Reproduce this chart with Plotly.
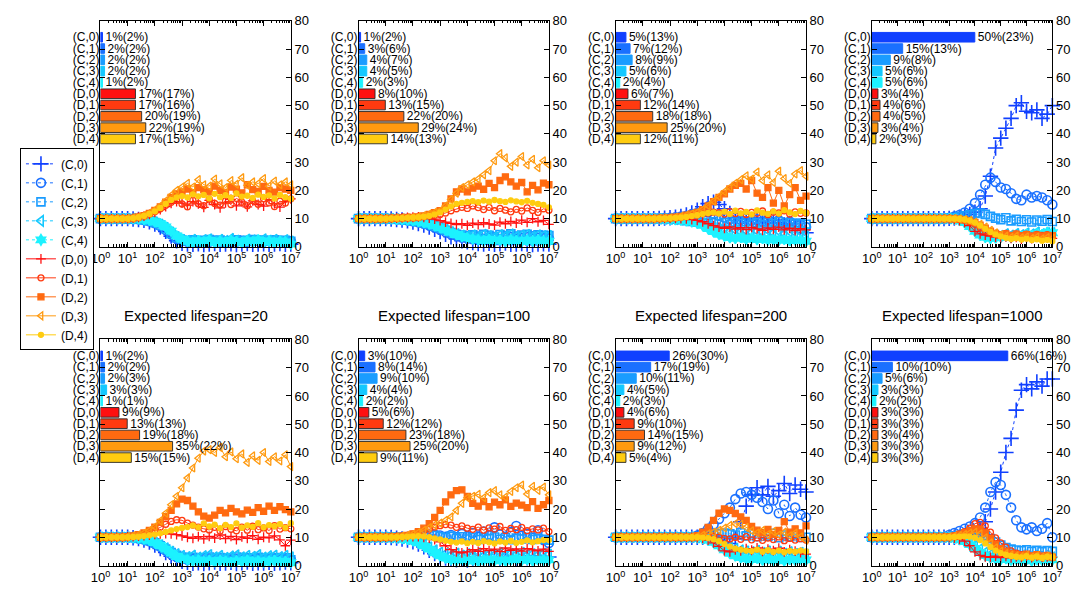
import plotly.graph_objects as go

# ---------------- data ----------------
TIME = [1, 1.585, 2.512, 3.981, 6.31, 10, 15.85, 25.12, 39.81, 63.1, 100, 158.5, 251.2, 398.1, 631,
        1000, 1585, 2512, 3981, 6310, 1e4, 1.585e4, 2.512e4, 3.981e4, 6.31e4, 1e5, 1.585e5, 2.512e5,
        3.981e5, 6.31e5, 1e6, 1.585e6, 2.512e6, 3.981e6, 6.31e6, 1e7]

NAMES = ["(C,0)", "(C,1)", "(C,2)", "(C,3)", "(C,4)", "(D,0)", "(D,1)", "(D,2)", "(D,3)", "(D,4)"]
COLORS = ["#1040ff", "#1a70ff", "#1a9cff", "#14c8ff", "#1cf2ff",
          "#ff1010", "#ff3a10", "#ff6a10", "#ff9a10", "#ffcc10"]
TITLES = ["", "", "", "", "Expected lifespan=20", "Expected lifespan=100",
          "Expected lifespan=200", "Expected lifespan=1000"]

# top row, panel 1
T1_C0 = [10,10,10,10,10,10, 9.9,9.7,9.4,8.9,8.1,7.0,5.5,3.8,2.2,1.3, 1.0,0.9,1.1,0.8,1.0,1.2,0.9,1.0,1.1,0.8, 1.0,1.2,0.9,1.0,1.1,0.9,1.0,1.2,0.9,1.0]
T1_C1 = [10,10,10,10,10,10, 9.9,9.8,9.5,9.1,8.4,7.4,6.0,4.4,2.9,2.1, 1.8,2.0,1.7,2.1,1.8,2.2,1.9,1.7,2.1,1.9, 2.2,1.8,2.0,2.3,1.8,2.1,1.9,2.2,1.8,2.0]
T1_C2 = [10,10,10,10,10,10, 9.9,9.8,9.6,9.2,8.6,7.7,6.4,4.8,3.3,2.4, 2.1,2.5,1.9,2.3,2.6,2.0,2.4,1.8,2.2,2.5, 1.9,2.3,2.6,2.0,2.4,2.1,2.5,1.9,2.3,2.0]
T1_C3 = [10,10,10,10,10,10, 10,9.9,9.7,9.4,8.8,8.0,6.8,5.2,3.6,2.6, 2.2,2.6,2.0,2.5,2.8,2.1,2.6,2.2,2.9,2.3, 2.0,2.7,2.4,2.1,2.8,2.3,2.6,2.0,2.5,2.0]
T1_C4 = [10,10,10,10,10,10, 10,9.9,9.7,9.4,8.9,8.2,7.1,5.6,3.9,2.7, 2.0,1.6,2.2,1.8,2.4,1.5,2.1,1.7,2.3,1.9, 1.6,2.2,1.8,2.5,1.7,2.1,1.5,2.0,1.8,1.0]
T1_D0 = [10,10,10,10,10,10, 10.2,10.5,10.9,11.5,12.2,13.2,14.3,15.4,16.0,15.5, 14.8,16.0,15.2,14.0,16.5,15.0,13.8,15.6,16.8,14.5, 15.9,14.2,16.3,15.0,14.4,16.7,15.3,14.1,16.0,17.0]
T1_D1 = [10,10,10,10,10,10, 10.2,10.5,11.0,11.6,12.4,13.5,14.7,15.8,16.5,15.2, 14.2,16.5,15.3,14.6,16.9,15.4,14.8,16.3,15.0,17.2, 15.8,14.6,16.4,15.1,17.0,15.6,14.3,16.2,15.5,17.0]
T1_D2 = [10,10,10,10,10,10, 10.2,10.6,11.1,11.9,12.9,14.2,15.8,17.5,18.8,19.5, 20.5,19.2,21.0,20.2,19.5,21.5,20.0,19.3,21.2,20.4, 19.1,22.0,20.3,19.6,21.4,20.0,19.4,21.0,20.5,20.0]
T1_D3 = [10,10,10,10,10,10, 10.2,10.6,11.2,12.0,13.1,14.5,16.3,18.3,20.0,21.2, 22.5,21.2,23.8,22.0,21.5,24.0,22.3,21.0,23.5,22.2, 24.5,21.8,23.0,22.4,24.2,21.5,23.3,22.0,23.0,22.0]
T1_D4 = [10,10,10,10,10,10, 10.2,10.5,11.0,11.7,12.6,13.8,15.2,16.6,17.5,18.0, 17.5,18.6,17.9,18.4,17.2,18.8,17.6,18.3,17.4,18.9, 17.8,18.1,17.3,18.5,17.7,18.2,17.1,18.4,17.6,17.0]

# top row, panel 2
T2_C0 = [10,10,10,10,10,10, 9.9,9.7,9.5,9.2,8.8,8.3,7.7,7.0,6.2,5.4, 4.5,3.6,2.8,2.2,1.8,1.5,1.2,1.0,1.3,0.9, 1.1,1.4,0.9,1.0,1.2,1.0,0.8,1.0,1.1,1.0]
T2_C1 = [10,10,10,10,10,10, 9.9,9.8,9.6,9.4,9.1,8.7,8.2,7.6,6.9,6.1, 5.3,4.5,3.9,3.4,3.1,2.9,3.2,2.8,3.3,3.0, 2.7,3.2,3.5,2.9,3.1,3.4,2.8,3.2,3.0,3.0]
T2_C2 = [10,10,10,10,10,10, 9.9,9.8,9.7,9.5,9.2,8.9,8.5,8.0,7.4,6.7, 5.9,5.1,4.5,4.2,3.9,4.3,3.8,4.5,4.1,3.7, 4.4,4.0,4.6,3.8,4.2,4.5,3.9,4.3,4.1,4.0]
T2_C3 = [10,10,10,10,10,10, 10,9.9,9.8,9.6,9.4,9.1,8.7,8.2,7.6,6.9, 6.1,5.3,4.6,4.1,3.8,4.2,3.6,4.4,3.9,3.5, 4.3,3.8,4.5,3.7,4.1,4.4,3.6,4.2,3.9,4.0]
T2_C4 = [10,10,10,10,10,10, 9.9,9.8,9.7,9.5,9.3,9.0,8.6,8.1,7.5,6.8, 6.0,5.2,4.4,3.7,3.2,2.8,2.5,2.2,2.6,2.1, 2.4,2.0,2.5,2.2,1.9,2.3,2.1,2.4,2.0,2.0]
T2_D0 = [10,10,10,10,10,10, 10.1,10.2,10.3,10.4,10.5,10.6,10.5,10.2,9.8,9.3, 8.8,8.3,7.9,8.2,7.6,8.4,7.9,8.6,8.1,7.7, 8.8,8.2,9.0,8.4,9.5,8.7,10.0,8.9,9.4,8.0]
T2_D1 = [10,10,10,10,10,10, 10.1,10.1,10.2,10.3,10.4,10.5,10.7,10.9,11.2,11.5, 12.0,12.8,13.5,14.0,13.6,14.5,13.9,13.2,14.0,12.8, 13.6,13.0,12.4,13.3,12.7,13.8,12.9,12.2,13.5,13.0]
T2_D2 = [10,10,10,10,10,10, 10.1,10.2,10.3,10.4,10.4,10.6,11.0,11.5,12.1,12.8, 14.5,17.0,19.5,20.5,19.5,20.8,21.5,20.4,22.5,21.0, 23.5,24.8,23.0,21.5,22.8,19.5,21.8,20.2,22.6,22.0]
T2_D3 = [10,10,10,10,10,10, 10.1,10.2,10.3,10.4,10.5,10.7,11.1,11.6,12.2,12.8, 14.5,16.8,19.0,21.0,22.0,23.0,24.0,25.5,27.0,30.5, 33.0,31.5,28.5,30.0,32.0,29.0,31.0,28.0,30.5,29.0]
T2_D4 = [10,10,10,10,10,10, 10.1,10.1,10.2,10.3,10.4,10.5,10.7,11.0,11.5,12.2, 13.2,14.3,15.2,15.6,15.9,16.2,15.8,16.4,16.0,16.6, 16.2,15.9,16.5,16.1,15.8,16.3,15.6,15.2,14.9,14.0]

# top row, panel 3
T3_C0 = [10,10,10,10,10,10, 10.0,10.0,10.1,10.2,10.3,10.5,10.8,11.3,12.0,13.0, 14.2,15.3,15.8,15.0,13.5,11.8,10.5,9.8,10.3,9.5, 10.2,9.2,8.6,9.4,8.5,7.8,8.3,7.2,6.5,5.0]
T3_C1 = [10,10,10,10,10,10, 10.0,10.0,10.1,10.2,10.3,10.5,10.7,11.0,11.5,12.0, 12.4,12.2,11.6,11.0,10.4,9.8,10.5,9.6,10.2,9.3, 9.8,9.0,9.6,8.8,9.4,8.5,9.0,8.2,7.8,7.0]
T3_C2 = [10,10,10,10,10,10, 10.0,10.0,10.0,10.0,9.9,9.8,9.6,9.3,9.0,8.8, 8.6,8.4,8.9,8.2,8.7,8.0,8.8,8.3,9.0,8.1, 8.6,7.9,8.7,8.2,8.9,7.8,8.5,8.1,8.4,8.0]
T3_C3 = [10,10,10,10,10,10, 10.0,10.0,9.9,9.9,9.8,9.7,9.6,9.4,9.2,9.0, 8.4,7.6,6.8,6.2,5.8,5.5,5.9,5.3,5.7,5.1, 5.6,5.2,5.8,5.0,5.5,4.8,5.4,5.1,5.3,5.0]
T3_C4 = [10,10,10,10,10,10, 10.0,10.0,9.9,9.9,9.8,9.7,9.5,9.2,8.9,8.4, 7.6,6.5,5.4,4.5,3.8,3.3,3.0,3.4,2.7,3.1, 2.6,3.0,2.4,2.8,2.3,2.7,2.2,2.5,2.3,2.0]
T3_D0 = [10,10,10,10,10,10, 10.0,10.0,10.0,10.1,10.1,10.1,10.0,9.9,9.7,9.4, 8.9,8.2,7.5,7.0,6.6,7.1,6.3,6.8,6.1,6.9, 6.4,5.9,6.7,6.2,7.0,6.0,6.6,5.8,6.5,6.0]
T3_D1 = [10,10,10,10,10,10, 10.0,10.0,10.1,10.1,10.2,10.3,10.5,10.7,11.0,11.3, 11.7,12.0,12.3,12.1,11.6,12.5,11.8,12.6,11.5,12.2, 11.9,12.7,11.4,12.3,12.0,12.8,11.6,12.4,11.9,12.0]
T3_D2 = [10,10,10,10,10,10, 10.0,10.0,10.1,10.2,10.3,10.5,10.8,11.2,11.7,12.2, 13.2,14.5,16.0,17.5,18.8,20.5,21.8,22.5,20.5,23.5, 19.0,17.5,21.0,15.5,20.0,14.5,18.5,21.0,16.5,18.0]
T3_D3 = [10,10,10,10,10,10, 10.0,10.0,10.1,10.2,10.3,10.5,10.8,11.2,11.7,12.2, 13.2,14.6,16.2,17.8,19.5,21.0,22.5,23.8,25.2,24.0, 26.5,23.5,25.5,22.8,26.8,24.2,22.5,25.8,27.0,25.0]
T3_D4 = [10,10,10,10,10,10, 10.0,10.0,10.1,10.1,10.2,10.3,10.4,10.6,10.9,11.2, 11.6,12.0,12.2,11.8,12.5,11.6,12.8,11.9,12.4,11.5, 12.9,12.1,11.7,12.6,11.8,13.0,12.2,11.6,12.7,12.0]

# top row, panel 4
T4_C0 = [10,10,10,10,10,10,10,10,10,10,10,10,10,10,10, 10.1,10.2,10.5,10.9,11.5,12.3,13.5,18.0,25.0,35.0,38.5,42.0,45.5,50.0,51.0,48.0,47.5,48.5,45.5,47.0,50.0]
T4_C1 = [10,10,10,10,10,10,10,10,10,10,10,10,10,10,10, 10.3,10.7,11.3,12.2,13.5,15.5,18.5,22.0,24.5,23.0,21.0,20.5,19.0,17.0,16.5,18.5,17.5,18.0,17.5,16.5,15.0]
T4_C2 = [10,10,10,10,10,10,10,10,10,10,10,10,10,10,10, 10.2,10.4,10.7,11.0,11.4,11.8,12.0,11.5,10.8,10.2,9.6,10.3,9.2,9.8,9.0,9.6,8.8,9.5,9.1,9.7,9.0]
T4_C3 = [10,10,10,10,10,10,10,10,10,10,10,10,10,10,10, 10.0,9.9,9.7,9.2,8.3,7.0,5.8,5.0,4.5,4.2,4.0,4.6,4.1,4.7,4.3,4.9,4.5,5.2,4.6,5.0,5.0]
T4_C4 = [10,10,10,10,10,10,10,10,10,10,10,10,10,10,10, 10.0,9.8,9.4,8.6,7.2,5.5,4.2,3.4,3.0,3.2,3.5,3.9,3.4,4.1,3.7,4.4,3.9,4.7,4.2,5.1,5.0]
T4_D0 = [10,10,10,10,10,10,10,10,10,10,10,10,10,10,10, 9.9,9.7,9.3,8.6,7.5,5.5,4.6,4.2,3.8,3.5,3.2,3.6,3.0,3.4,2.8,3.3,2.9,3.5,3.1,3.2,3.0]
T4_D1 = [10,10,10,10,10,10,10,10,10,10,10,10,10,10,10, 10.0,9.9,9.7,9.4,8.9,8.0,6.8,5.7,5.0,4.6,4.3,4.8,4.1,4.6,4.0,4.5,3.9,4.4,4.1,4.3,4.0]
T4_D2 = [10,10,10,10,10,10,10,10,10,10,10,10,10,10,10, 10.0,9.9,9.8,9.6,9.2,8.6,7.7,6.6,5.6,4.8,4.3,4.6,4.0,4.5,3.9,4.3,3.7,4.2,3.8,4.1,4.0]
T4_D3 = [10,10,10,10,10,10,10,10,10,10,10,10,10,10,10, 10.0,10.0,9.9,9.7,9.4,8.8,8.0,7.0,5.9,5.0,4.3,3.8,3.4,3.8,3.2,3.6,3.0,3.5,2.9,3.3,3.0]
T4_D4 = [10,10,10,10,10,10,10,10,10,10,10,10,10,10,10, 10.0,10.0,9.9,9.7,9.3,8.6,7.6,6.4,5.3,4.4,3.7,3.2,2.8,3.1,2.6,2.9,2.4,2.7,2.2,2.5,2.0]

# bottom row, panel 1 (lifespan 20)
B1_C0 = [10,10,10,10,10, 10,9.8,9.5,9.0,8.3,7.2,6.0,4.6,3.3,2.2,1.5, 1.1,0.8,1.0,0.7,1.0,1.2,0.8,0.9,1.1,0.7, 1.0,1.2,0.8,1.0,0.9,1.1,0.8,1.0,1.2,1.0]
B1_C1 = [10,10,10,10,10, 10,9.9,9.6,9.2,8.6,7.7,6.6,5.3,4.0,3.0,2.4, 2.0,2.3,1.8,2.2,2.5,1.9,2.1,2.4,1.8,2.2, 2.6,1.9,2.1,2.3,1.8,2.2,2.4,1.9,2.1,2.0]
B1_C2 = [10,10,10,10,10, 10,9.9,9.7,9.3,8.8,8.0,7.0,5.8,4.6,3.6,3.0, 2.6,2.9,2.3,2.7,3.0,2.4,2.8,2.2,2.6,3.0, 2.3,2.7,2.5,2.9,2.2,2.6,2.8,2.4,2.7,2.0]
B1_C3 = [10,10,10,10,10, 10,9.9,9.7,9.4,8.9,8.2,7.3,6.2,5.0,4.1,3.5, 3.1,3.6,2.9,3.4,3.8,3.0,3.5,2.8,3.3,3.7, 3.0,3.5,3.2,3.8,2.9,3.4,3.6,3.1,3.5,3.0]
B1_C4 = [10,10,10,10,10, 10,9.9,9.7,9.4,8.9,8.1,7.1,5.8,4.4,3.2,2.4, 2.0,1.6,1.9,1.4,1.7,1.3,1.8,1.5,1.2,1.6, 1.4,1.9,1.3,1.6,1.2,1.5,1.8,1.3,1.4,1.0]
B1_D0 = [10,10,10,10,10, 10.1,10.2,10.4,10.6,10.8,11.0,11.2,11.3,11.2,10.9,10.5, 10.0,9.6,10.2,9.4,10.3,9.7,10.8,9.5,10.3,9.2, 10.1,9.6,10.6,9.3,10.0,9.8,10.5,9.1,7.0,9.0]
B1_D1 = [10,10,10,10,10, 10.1,10.3,10.6,11.0,11.6,12.5,13.5,14.6,15.6,16.2,16.0, 15.0,14.3,13.6,13.0,12.6,13.5,12.2,13.8,12.8,12.3, 13.6,12.5,13.9,12.7,13.3,12.4,14.1,12.9,13.4,13.0]
B1_D2 = [10,10,10,10,10, 10.2,10.5,10.9,11.5,12.4,13.6,15.3,17.3,19.5,21.8,23.5, 23.0,21.0,19.0,17.5,16.8,17.8,19.5,18.6,20.2,19.0, 18.3,19.6,18.8,20.5,19.2,21.0,19.5,20.8,19.8,19.0]
B1_D3 = [10,10,10,10,10, 10.2,10.5,10.9,11.5,12.4,13.7,15.8,18.5,21.5,24.5,27.5, 31.0,34.5,38.0,40.5,41.0,40.0,41.8,38.5,40.2,37.8, 39.5,36.5,38.8,37.2,40.0,36.8,38.5,37.0,39.2,35.0]
B1_D4 = [10,10,10,10,10, 10.0,10.1,10.2,10.4,10.7,11.0,11.4,11.9,12.4,12.9,13.3, 13.6,14.2,13.5,14.9,13.8,14.5,13.2,14.4,13.6,14.9, 13.4,14.2,13.7,15.0,13.5,14.3,13.9,14.6,13.4,15.0]

# bottom row, panel 2 (lifespan 100)
B2_C0 = [10,10,10,10,10,10, 9.9,9.7,9.4,9.0,8.4,7.6,6.6,5.4,4.2,3.2, 2.6,2.2,2.0,2.3,1.9,2.4,2.8,2.2,2.6,3.0, 2.4,2.9,3.3,2.6,3.1,2.7,3.4,2.9,3.2,3.0]
B2_C1 = [10,10,10,10,10,10, 10.0,10.0,10.0,10.1,10.2,10.4,10.6,10.9,11.0,10.6, 10.2,10.8,10.0,11.2,10.4,11.5,10.2,12.0,10.6,13.5, 11.0,10.2,11.8,14.0,10.5,11.2,9.8,12.5,9.0,8.0]
B2_C2 = [10,10,10,10,10,10, 10.0,10.0,10.0,10.1,10.2,10.4,10.6,10.8,10.6,10.2, 9.8,10.4,9.6,10.2,9.4,10.0,9.2,9.8,9.5,10.1, 9.3,9.9,9.1,9.7,9.4,10.0,9.2,9.6,9.3,9.0]
B2_C3 = [10,10,10,10,10,10, 9.9,9.8,9.6,9.3,8.9,8.3,7.5,6.5,5.5,4.7, 4.2,3.8,4.3,3.6,4.1,3.7,4.4,3.5,4.0,3.8, 4.5,3.6,4.2,3.9,4.6,3.7,4.1,3.8,4.3,4.0]
B2_C4 = [10,10,10,10,10,10, 9.9,9.8,9.6,9.3,8.8,8.0,7.0,5.8,4.5,3.4, 2.6,2.1,1.8,2.2,1.6,2.0,1.5,1.9,2.3,1.7, 2.1,1.6,2.0,2.4,1.8,2.2,1.7,2.1,1.9,2.0]
B2_D0 = [10,10,10,10,10,10, 10.0,10.0,10.1,10.2,10.2,10.2,10.0,9.7,9.2,8.4, 7.0,5.6,4.8,4.5,4.8,5.6,5.0,6.0,5.3,5.8, 4.9,6.2,5.4,5.9,5.1,6.0,5.5,5.2,5.8,5.0]
B2_D1 = [10,10,10,10,10,10, 10.1,10.2,10.4,10.7,11.1,11.6,12.2,12.9,13.6,14.1, 14.5,14.3,13.5,14.0,13.2,12.8,13.6,12.5,13.3,12.9, 13.8,12.4,13.1,12.7,13.5,12.3,13.0,12.6,13.2,12.0]
B2_D2 = [10,10,10,10,10,10, 10.1,10.2,10.4,10.7,11.2,12.0,13.2,14.8,17.0,19.5, 22.5,25.0,26.5,26.8,24.5,22.0,21.0,22.6,20.8,22.4, 21.5,23.2,20.9,22.1,21.4,20.5,22.6,20.2,21.5,23.0]
B2_D3 = [10,10,10,10,10,10, 10.1,10.2,10.4,10.7,11.1,11.7,12.5,13.4,14.3,15.0, 16.0,17.2,19.5,22.0,24.0,24.5,25.2,24.0,25.8,26.5, 25.0,24.2,26.2,27.5,28.5,25.3,28.0,26.6,27.8,25.0]
B2_D4 = [10,10,10,10,10,10, 10.0,10.0,10.1,10.2,10.3,10.4,10.3,10.0,9.6,9.2, 8.8,8.4,8.1,8.5,7.9,8.4,8.0,8.6,8.2,7.8, 8.5,8.1,8.7,8.0,8.4,8.9,8.2,8.6,9.0,9.0]

# bottom row, panel 3 (lifespan 200)
B3_C0 = [10,10,10,10,10,10,10,10,10,10,10,10,10,10,10, 10.0,10.0,9.9,9.6,9.0,8.2,7.8,9.5,15.5,21.0,25.0,27.5,25.0,28.0,24.5,26.5,29.0,25.5,28.5,27.0,26.0]
B3_C1 = [10,10,10,10,10,10,10,10,10,10,10,10,10,10,10, 10.6,11.5,13.0,14.5,16.5,18.5,20.5,23.5,25.5,26.0,25.0,24.0,22.5,20.0,23.0,18.5,21.5,17.5,20.5,18.0,17.0]
B3_C2 = [10,10,10,10,10,10,10,10,10,10,10,10,10,10,10, 10.2,10.4,10.7,11.0,11.3,11.5,11.2,10.8,11.6,10.5,11.3,10.2,11.0,10.4,11.4,9.8,10.8,10.2,11.0,9.9,10.0]
B3_C3 = [10,10,10,10,10,10,10,10,10,10,10,10,10,10,10, 9.9,9.7,9.4,8.9,8.2,7.4,6.6,6.0,5.5,5.1,4.8,5.3,4.6,5.1,4.4,5.0,4.3,4.8,4.2,4.6,4.0]
B3_C4 = [10,10,10,10,10,10,10,10,10,10,10,10,10,10,10, 9.8,9.5,9.0,8.2,7.0,5.6,4.3,3.4,2.8,2.4,2.1,2.6,1.9,2.4,1.8,2.3,1.7,2.2,1.9,2.4,2.0]
B3_D0 = [10,10,10,10,10,10,10,10,10,10,10,10,10,10,10, 9.9,9.6,9.0,8.0,6.8,5.2,4.8,5.5,5.2,6.0,5.4,6.2,5.0,5.8,5.3,6.1,4.8,5.6,5.1,4.6,4.0]
B3_D1 = [10,10,10,10,10,10,10,10,10,10,10,10,10,10,10, 10.1,10.3,10.4,10.3,10.0,9.6,9.4,10.0,9.3,10.2,9.1,9.8,8.9,9.7,9.2,10.1,8.8,9.6,9.0,9.5,9.0]
B3_D2 = [10,10,10,10,10,10,10,10,10,10,10,10,10,10,10, 10.6,11.8,13.5,16.0,18.5,20.0,19.5,18.4,17.2,16.0,13.8,12.5,11.6,12.8,11.0,12.4,15.5,11.8,13.0,11.5,14.0]
B3_D3 = [10,10,10,10,10,10,10,10,10,10,10,10,10,10,10, 10.3,10.7,11.2,11.8,12.5,13.3,14.2,14.8,14.5,13.5,12.3,11.5,12.4,11.0,12.0,10.8,11.8,10.5,11.5,10.2,9.0]
B3_D4 = [10,10,10,10,10,10,10,10,10,10,10,10,10,10,10, 10.0,9.9,9.7,9.3,8.6,7.6,6.7,6.0,5.6,5.3,5.1,5.6,4.9,5.4,4.8,5.3,4.7,5.2,4.9,5.3,5.0]

# bottom row, panel 4 (lifespan 1000)
B4_C0 = [10,10,10,10,10,10,10,10,10,10,10,10,10,10,10,10,10,10, 10.0,10.3,11.0,12.5,15.5,20.0,26.0,33.0,40.0,45.0,55.0,62.0,64.0,62.5,65.0,63.5,66.0,66.0]
B4_C1 = [10,10,10,10,10,10,10,10,10,10,10,10,10,10,10, 10.8,11.5,12.2,13.0,13.8,15.0,17.0,20.5,26.0,29.5,28.5,25.0,20.5,16.0,13.5,12.8,13.5,12.2,13.0,15.0,10.0]
B4_C2 = [10,10,10,10,10,10,10,10,10,10,10,10,10,10,10, 10.2,10.4,10.7,11.0,11.3,11.5,11.2,10.5,9.5,8.3,7.2,6.4,5.8,5.5,5.2,5.6,5.0,5.4,4.9,5.3,5.0]
B4_C3 = [10,10,10,10,10,10,10,10,10,10,10,10,10,10,10, 10.0,9.8,9.5,9.0,8.2,7.0,5.8,4.7,3.9,3.4,3.0,3.3,2.8,3.2,2.7,3.1,2.9,3.3,2.8,3.1,3.0]
B4_C4 = [10,10,10,10,10,10,10,10,10,10,10,10,10,10,10, 9.9,9.6,9.2,8.5,7.4,6.0,4.6,3.5,2.8,2.4,2.1,2.5,1.9,2.3,1.8,2.2,1.7,2.1,1.9,2.2,2.0]
B4_D0 = [10,10,10,10,10,10,10,10,10,10,10,10,10,10,10, 9.9,9.7,9.3,8.6,7.0,4.8,3.6,3.1,2.9,3.3,2.8,3.2,2.7,3.1,2.9,3.3,2.8,3.2,2.9,3.1,3.0]
B4_D1 = [10,10,10,10,10,10,10,10,10,10,10,10,10,10,10, 10.2,10.6,11.2,12.0,13.2,14.8,15.3,14.0,11.8,9.8,8.0,6.5,5.2,4.4,3.8,3.9,3.3,3.7,3.2,3.5,3.0]
B4_D2 = [10,10,10,10,10,10,10,10,10,10,10,10,10,10,10, 10.2,10.5,11.0,11.6,12.4,13.0,12.8,11.5,9.5,7.5,6.0,5.0,4.3,3.9,3.6,4.0,3.4,3.8,3.3,3.6,3.0]
B4_D3 = [10,10,10,10,10,10,10,10,10,10,10,10,10,10,10, 10.1,10.3,10.6,11.0,11.5,11.8,11.2,9.8,8.0,6.3,5.0,4.2,3.7,3.4,3.2,3.6,3.0,3.4,2.9,3.3,3.0]
B4_D4 = [10,10,10,10,10,10,10,10,10,10,10,10,10,10,10, 10.0,10.1,10.2,10.3,10.2,9.8,9.0,7.8,6.5,5.3,4.4,3.8,3.4,3.1,2.9,3.3,2.8,3.2,2.7,3.1,3.0]

# bar values: final share (%) and, in brackets, average share (%)
T1_FINAL = [1, 2, 2, 2, 1, 17, 17, 20, 22, 17]
T1_MEAN = [2, 2, 2, 2, 2, 17, 16, 19, 19, 15]
T2_FINAL = [1, 3, 4, 4, 2, 8, 13, 22, 29, 14]
T2_MEAN = [2, 6, 7, 5, 3, 10, 15, 20, 24, 13]
T3_FINAL = [5, 7, 8, 5, 2, 6, 12, 18, 25, 12]
T3_MEAN = [13, 12, 9, 6, 4, 7, 14, 18, 20, 11]
T4_FINAL = [50, 15, 9, 5, 5, 3, 4, 4, 3, 2]
T4_MEAN = [23, 13, 8, 6, 6, 4, 6, 5, 4, 3]
B1_FINAL = [1, 2, 2, 3, 1, 9, 13, 19, 35, 15]
B1_MEAN = [2, 2, 3, 3, 1, 9, 13, 18, 22, 15]
B2_FINAL = [3, 8, 9, 4, 2, 5, 12, 23, 25, 9]
B2_MEAN = [10, 14, 10, 4, 2, 6, 12, 18, 20, 11]
B3_FINAL = [26, 17, 10, 4, 2, 4, 9, 14, 9, 5]
B3_MEAN = [30, 19, 11, 5, 3, 6, 10, 15, 12, 4]
B4_FINAL = [66, 10, 5, 3, 2, 3, 3, 3, 3, 3]
B4_MEAN = [16, 10, 6, 3, 2, 3, 3, 4, 3, 3]

PANELS = [
    ([T1_C0, T1_C1, T1_C2, T1_C3, T1_C4, T1_D0, T1_D1, T1_D2, T1_D3, T1_D4], T1_FINAL, T1_MEAN),
    ([T2_C0, T2_C1, T2_C2, T2_C3, T2_C4, T2_D0, T2_D1, T2_D2, T2_D3, T2_D4], T2_FINAL, T2_MEAN),
    ([T3_C0, T3_C1, T3_C2, T3_C3, T3_C4, T3_D0, T3_D1, T3_D2, T3_D3, T3_D4], T3_FINAL, T3_MEAN),
    ([T4_C0, T4_C1, T4_C2, T4_C3, T4_C4, T4_D0, T4_D1, T4_D2, T4_D3, T4_D4], T4_FINAL, T4_MEAN),
    ([B1_C0, B1_C1, B1_C2, B1_C3, B1_C4, B1_D0, B1_D1, B1_D2, B1_D3, B1_D4], B1_FINAL, B1_MEAN),
    ([B2_C0, B2_C1, B2_C2, B2_C3, B2_C4, B2_D0, B2_D1, B2_D2, B2_D3, B2_D4], B2_FINAL, B2_MEAN),
    ([B3_C0, B3_C1, B3_C2, B3_C3, B3_C4, B3_D0, B3_D1, B3_D2, B3_D3, B3_D4], B3_FINAL, B3_MEAN),
    ([B4_C0, B4_C1, B4_C2, B4_C3, B4_C4, B4_D0, B4_D1, B4_D2, B4_D3, B4_D4], B4_FINAL, B4_MEAN),
]
for pi, (ser, _, _) in enumerate(PANELS):
    for si, s in enumerate(ser):
        assert len(s) == len(TIME), (pi, si, len(s))

# ---------------- style / layout ----------------
PAGE_W, PAGE_H = 1088, 601
OFF = 8                      # default body margin of the html page
W, H = PAGE_W - 2 * OFF, PAGE_H - 2 * OFF
FONT = "Liberation Sans, Arial, Helvetica, sans-serif"
X_PX = [(92, 286), (355, 549), (617, 811), (878, 1062)]   # page pixels
Y_PX = [(14, 246), (341, 573)]
PX_PER_PCT = 2.1
SYMBOLS = ["cross-thin-open", "circle-open", "square-open", "triangle-left-open", "hexagram",
           "cross-thin-open", "circle-open", "square", "triangle-left-open", "circle"]
SIZES = [11, 9, 8, 9, 8, 7, 6, 6, 7, 5]
ROW_Y = [74.2 - 4 * k for k in range(10)]


def px_x(px):
    return (px - OFF) / W


def px_y(py):
    return 1 - (py - OFF) / H


def ax(n):
    return "" if n == 1 else str(n)


fig = go.Figure()
layout = {}
annotations = []
for p, (series, final, mean) in enumerate(PANELS):
    col, row = p % 4, p // 4
    x0, x1 = X_PX[col]
    ytop, ybot = Y_PX[row]
    xd = [px_x(x0), px_x(x1)]
    yd = [px_y(ybot), px_y(ytop)]
    n = p + 1
    m = p + 9
    layout["xaxis" + ax(n)] = dict(
        domain=xd, anchor="y" + ax(n), type="log", range=[0, 7],
        tickvals=[10 ** k for k in range(8)],
        ticktext=["10<sup>%d</sup>" % k for k in range(8)],
        ticks="inside", ticklen=5, tickcolor="black", mirror="ticks",
        showline=True, linecolor="black", linewidth=1, showgrid=False, zeroline=False,
        tickfont=dict(size=13, color="black", family=FONT),
        minor=dict(ticks="inside", ticklen=2.5, tickcolor="black", dtick="D1", showgrid=False),
    )
    layout["yaxis" + ax(n)] = dict(
        domain=yd, anchor="x" + ax(n), side="right", range=[0, 80],
        tickvals=list(range(0, 81, 10)), ticks="inside", ticklen=5, tickcolor="black",
        mirror="ticks", showline=True, linecolor="black", linewidth=1,
        showgrid=False, zeroline=False, tickfont=dict(size=13, color="black", family=FONT),
    )
    layout["xaxis" + ax(m)] = dict(
        overlaying="x" + ax(n), anchor="y" + ax(m), range=[0, (x1 - x0) / PX_PER_PCT],
        visible=False, showgrid=False, zeroline=False,
    )
    layout["yaxis" + ax(m)] = dict(
        overlaying="y" + ax(n), anchor="x" + ax(m), side="left", range=[0, 80],
        tickvals=ROW_Y, ticktext=NAMES, ticks="", showline=False, showgrid=False,
        zeroline=False, tickfont=dict(size=12, color="black", family=FONT),
    )

    for j, s in enumerate(series):
        is_c = j < 5
        fig.add_trace(go.Scatter(
            x=TIME, y=s, mode="lines+markers", name=NAMES[j],
            showlegend=(p == 0), cliponaxis=False, hoverinfo="skip",
            line=dict(color=COLORS[j], width=1, dash="dot" if is_c else "solid"),
            marker=dict(symbol=SYMBOLS[j], size=SIZES[j], color=COLORS[j],
                        line=dict(color=COLORS[j], width=1.6 if is_c else 1.3)),
            xaxis="x" + ax(n), yaxis="y" + ax(n),
        ))

    fig.add_trace(go.Bar(
        x=final, y=ROW_Y, orientation="h", width=3.4,
        marker=dict(color=COLORS,
                    line=dict(color=[COLORS[k] if k < 5 else "rgba(40,40,40,0.9)" for k in range(10)],
                              width=1)),
        text=["%d%%(%d%%)" % (f, a) for f, a in zip(final, mean)],
        textposition="outside", constraintext="none", cliponaxis=False,
        textfont=dict(size=12, color="black", family=FONT),
        showlegend=False, hoverinfo="skip",
        xaxis="x" + ax(m), yaxis="y" + ax(m),
    ))

    if TITLES[p]:
        annotations.append(dict(
            text=TITLES[p], xref="paper", yref="paper", x=(xd[0] + xd[1]) / 2,
            y=px_y(316), xanchor="center", yanchor="middle", showarrow=False,
            font=dict(size=15, color="black", family=FONT),
        ))

fig.update_layout(
    width=W, height=H, margin=dict(l=0, r=0, t=0, b=0),
    paper_bgcolor="white", plot_bgcolor="white",
    font=dict(family=FONT, color="black"),
    annotations=annotations,
    legend=dict(x=px_x(10), y=px_y(248.5), xanchor="left", yanchor="middle",
                bordercolor="black", borderwidth=1, bgcolor="white",
                font=dict(size=12, color="black", family=FONT), tracegroupgap=0, itemwidth=30),
    **layout,
)

fig.write_html("out.html", config={"displayModeBar": False})
